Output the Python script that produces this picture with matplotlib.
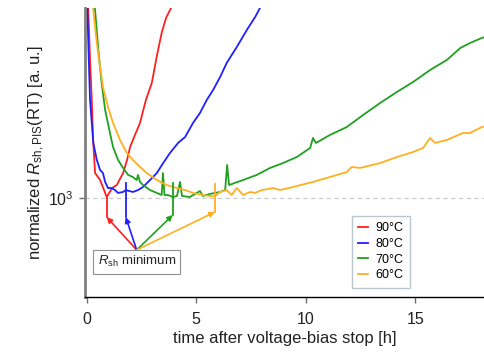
import matplotlib
matplotlib.use("Agg")
import matplotlib.pyplot as plt
from matplotlib.ticker import NullLocator, NullFormatter, FixedLocator

plt.rcParams['font.family'] = ['Liberation Sans', 'DejaVu Sans']
plt.rcParams['mathtext.fontset'] = 'custom'
plt.rcParams['mathtext.rm'] = 'Liberation Sans'
plt.rcParams['mathtext.it'] = 'Liberation Sans:italic'

# ---- data ----
t90 = [0.02, 0.07, 0.15, 0.23, 0.29, 0.38, 0.61, 0.79, 0.91, 1.16, 1.37, 1.66, 1.84, 1.98,
       2.2, 2.43, 2.7, 2.97, 3.21, 3.42, 3.62, 3.85, 3.95]
r90 = [4500, 3729, 2627, 1986, 1501, 1191, 1134, 1057, 1007, 1072, 1095, 1191, 1305, 1429,
       1554, 1690, 1986, 2237, 2720, 3175, 3526, 3781, 4100]

t80 = [0.0, 0.03, 0.08, 0.15, 0.30, 0.46, 0.61, 0.74, 0.84, 0.97, 1.14, 1.29, 1.43, 1.66,
       1.78, 2.11, 2.34, 2.57, 2.89, 3.2, 3.49, 3.8, 4.17, 4.49, 4.85, 5.17, 5.48, 5.77,
       6.09, 6.39, 6.85, 7.31, 7.69, 7.91, 8.0]
r80 = [4500, 3729, 2818, 1986, 1470, 1305, 1216, 1191, 1119, 1072, 1072, 1057, 1036, 1043,
       1057, 1043, 1057, 1080, 1134, 1191, 1277, 1370, 1470, 1532, 1690, 1813, 1986, 2130,
       2332, 2573, 2877, 3242, 3550, 3781, 3950]

t70 = [0.2, 0.38, 0.53, 0.68, 0.84, 1.06, 1.2, 1.43, 1.66, 1.89, 2.11, 2.28, 2.34, 2.43,
       2.57, 2.89, 3.2, 3.42, 3.48, 3.55, 3.71, 3.93, 4.12, 4.26, 4.35, 4.71, 5.17, 5.3,
       5.63, 6.09, 6.32, 6.41, 6.5, 6.76, 7.14, 7.76, 8.37, 8.96, 9.59, 10.2, 10.33, 10.47,
       11.1, 11.87, 12.62, 13.4, 14.16, 14.9, 15.68, 16.44, 17.06, 17.5, 18.04, 18.15]
r70 = [4500, 3729, 2818, 2237, 1851, 1576, 1429, 1305, 1234, 1175, 1158, 1134, 1175, 1119,
       1095, 1057, 1036, 1021, 1191, 1021, 1021, 1007, 1014, 1119, 1014, 1007, 1050, 1014,
       1029, 1043, 1057, 1260, 1095, 1111, 1134, 1175, 1234, 1277, 1332, 1419, 1522, 1470,
       1554, 1643, 1788, 1945, 2100, 2252, 2450, 2627, 2858, 2959, 3065, 3080]

t60 = [0.2, 0.3, 0.46, 0.61, 0.74, 0.97, 1.2, 1.52, 1.83, 2.11, 2.43, 2.74, 3.2, 3.65,
       4.11, 4.49, 4.85, 5.31, 5.63, 5.86, 6.09, 6.39, 6.62, 6.85, 7.14, 7.46, 7.69, 7.99,
       8.51, 8.83, 9.59, 10.33, 11.1, 11.87, 12.1, 12.48, 13.4, 14.16, 14.9, 15.36, 15.68,
       15.9, 16.44, 17.18, 17.5, 18.04, 18.15]
r60 = [4500, 3729, 2959, 2502, 2175, 1891, 1690, 1501, 1370, 1305, 1243, 1191, 1134, 1095,
       1072, 1057, 1036, 1021, 1014, 1014, 1043, 1057, 1021, 1072, 1021, 1043, 1036, 1057,
       1072, 1057, 1087, 1119, 1158, 1199, 1243, 1234, 1277, 1332, 1380, 1419, 1522,
       1470, 1501, 1576, 1576, 1643, 1650]

labels = ['90°C', '80°C', '70°C', '60°C']
colors = ['#ff2020', '#2020ff', '#20a020', '#ffb020']

# minimum markers: time, top of marker line, arrow tip
min_t = [0.91, 1.78, 3.93, 5.86]
min_top = [1007, 1111, 1111, 1103]
min_tip = [875, 875, 888, 907]
arrow_from = (2.28, 695)

# ---- figure ----
fig = plt.figure(figsize=(4.84, 3.52), dpi=100)
ax = fig.add_axes([85/484, 1 - 297/352, (484 - 85)/484, (297 - 8)/352])

series = [(t90, r90), (t80, r80), (t70, r70), (t60, r60)]
handles = []
for (t, r), c, lab in zip(series, colors, labels):
    h, = ax.plot(t, r, color=c, lw=1.3, label=lab)
    handles.append(h)

ax.axhline(1000, color='#c8c8c8', lw=0.8, ls=(0, (4, 3)), zorder=0)

for tm, top, tip, c in zip(min_t, min_top, min_tip, colors):
    ax.plot([tm, tm], [top, tip], color=c, lw=1.3)
    ax.annotate('', xy=(tm, tip), xytext=arrow_from,
                arrowprops=dict(arrowstyle='-|>', color=c, lw=1.2,
                                mutation_scale=8, shrinkA=0, shrinkB=0))

ax.text(arrow_from[0], 640, r'$R_{\mathrm{sh}}$ minimum', ha='center', va='center',
        fontsize=9.5, color='#222222',
        bbox=dict(boxstyle='square,pad=0.35', fc='white', ec='#909090', lw=0.8))

ax.set_yscale('log')
ax.set_xlim(-0.08, 18.14)
ax.set_ylim(500, 3781)
ax.yaxis.set_major_locator(FixedLocator([1000]))
ax.yaxis.set_minor_locator(NullLocator())
ax.yaxis.set_minor_formatter(NullFormatter())
ax.set_yticklabels([r'$10^3$'])
ax.set_xticks([0, 5, 10, 15])

for s in ['top', 'right']:
    ax.spines[s].set_visible(False)
ax.spines['left'].set_color('#808080')
ax.spines['left'].set_linewidth(2)
ax.spines['bottom'].set_color('black')
ax.spines['bottom'].set_linewidth(1)
ax.tick_params(axis='both', direction='out', length=4, width=1, color='#707070',
               labelsize=11.5, labelcolor='#222222')
ax.tick_params(axis='x', pad=7)
ax.tick_params(axis='y', pad=4)

ax.set_xlabel('time after voltage-bias stop [h]', fontsize=12, color='#222222', labelpad=3)
ax.set_ylabel(r'normalized $R_{\mathrm{sh,PIS}}$(RT) [a. u.]', fontsize=12,
              color='#222222', labelpad=1)

leg = ax.legend(handles=handles, loc='upper left',
                bbox_to_anchor=((352 - 85)/399, 1 - (216 - 8)/289),
                borderaxespad=0, fontsize=9, frameon=True, fancybox=False,
                handlelength=0.8, handletextpad=0.6, labelspacing=0.3, borderpad=0.5)
leg.get_frame().set_edgecolor('#a8b8c0')
leg.get_frame().set_linewidth(1)

fig.savefig('out.png', dpi=100)
